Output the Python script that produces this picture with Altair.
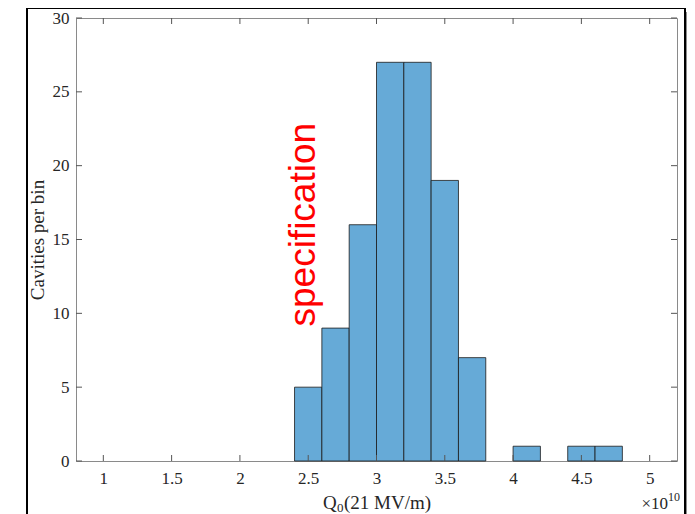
import altair as alt
import pandas as pd

# ---- data ----
bin_edges = [2.4, 2.6, 2.8, 3.0, 3.2, 3.4, 3.6, 3.8, 4.0, 4.2, 4.4, 4.6, 4.8]
counts = [5, 9, 16, 27, 27, 19, 7, 0, 1, 0, 1, 1]
x_ticks = [1, 1.5, 2, 2.5, 3, 3.5, 4, 4.5, 5]
y_ticks = [0, 5, 10, 15, 20, 25, 30]
annotation_text = ["specification"]
annotation_x = [2.55]
annotation_y = [16.0]

W, H = 601, 443
SERIF = "Liberation Serif"
TICK = "#555555"
BOX = "#8a8a8a"
TXT = "#262626"

bars_df = pd.DataFrame({"start": bin_edges[:-1], "end": bin_edges[1:], "count": counts})
xt_df = pd.DataFrame({"v": x_ticks})
yt_df = pd.DataFrame({"v": y_ticks})
one = pd.DataFrame({"k": [0]})
ann_df = pd.DataFrame({"t": annotation_text, "x": annotation_x, "y": annotation_y})

xs = alt.Scale(domain=[0.8, 5.2], nice=False, zero=False)
ys = alt.Scale(domain=[0, 30], nice=False, zero=True)

x_axis = alt.Axis(values=x_ticks, format="~g", tickSize=0, domain=False, grid=False,
                  labelPadding=9, title=None)
y_axis = alt.Axis(values=y_ticks, format="d", tickSize=0, domain=False, grid=False,
                  labelPadding=7, title="Cavities per bin", titlePadding=5)

bars = alt.Chart(bars_df).transform_filter("datum.count > 0").mark_rect(
    fill="#66AAD7", stroke="#1a1a1a", strokeWidth=0.8
).encode(
    x=alt.X("start:Q", scale=xs, axis=x_axis),
    x2="end:Q",
    y=alt.Y("count:Q", scale=ys, axis=y_axis),
    y2=alt.datum(0),
)

xb = alt.Chart(xt_df).mark_rule(color=TICK, strokeWidth=1).encode(
    x=alt.X("v:Q", scale=xs, axis=x_axis), y=alt.value(H), y2=alt.value(H - 6))
xtop = alt.Chart(xt_df).mark_rule(color=TICK, strokeWidth=1).encode(
    x=alt.X("v:Q", scale=xs, axis=x_axis), y=alt.value(0), y2=alt.value(6))
yl = alt.Chart(yt_df).mark_rule(color=TICK, strokeWidth=1).encode(
    y=alt.Y("v:Q", scale=ys, axis=y_axis), x=alt.value(0), x2=alt.value(6))
yr = alt.Chart(yt_df).mark_rule(color=TICK, strokeWidth=1).encode(
    y=alt.Y("v:Q", scale=ys, axis=y_axis), x=alt.value(W), x2=alt.value(W - 6))

spec = alt.Chart(ann_df).mark_text(
    font="Liberation Sans", fontSize=37, color="#ff0000", angle=270,
    align="center", baseline="alphabetic"
).encode(x=alt.X("x:Q", scale=xs, axis=x_axis), y=alt.Y("y:Q", scale=ys, axis=y_axis), text="t:N")

# x-axis title with subscript
q = alt.Chart(one).mark_text(font=SERIF, fontSize=19, color=TXT, align="left", baseline="alphabetic").encode(
    x=alt.value(247), y=alt.value(491), text=alt.value("Q"))
q0 = alt.Chart(one).mark_text(font=SERIF, fontSize=13, color=TXT, align="left", baseline="alphabetic").encode(
    x=alt.value(261), y=alt.value(494), text=alt.value("0"))
qrest = alt.Chart(one).mark_text(font=SERIF, fontSize=19, color=TXT, align="left", baseline="alphabetic").encode(
    x=alt.value(268), y=alt.value(491), text=alt.value("(21 MV/m)"))

# exponent label
ex = alt.Chart(one).mark_text(font=SERIF, fontSize=17, color=TXT, align="right", baseline="alphabetic").encode(
    x=alt.value(592), y=alt.value(491), text=alt.value("×10"))
ex2 = alt.Chart(one).mark_text(font=SERIF, fontSize=12, color=TXT, align="left", baseline="alphabetic").encode(
    x=alt.value(592), y=alt.value(483), text=alt.value("10"))

# outer frame + shadow
frame = alt.Chart(one).mark_rect(fillOpacity=0, stroke="#000000", strokeWidth=2).encode(
    x=alt.value(-49), x2=alt.value(609), y=alt.value(-10), y2=alt.value(512))
sh1 = alt.Chart(one).mark_rect(color="#8c8c8c").encode(
    x=alt.value(610), x2=alt.value(613), y=alt.value(-6), y2=alt.value(512))
sh2 = alt.Chart(one).mark_rect(color="#bdbdbd").encode(
    x=alt.value(613), x2=alt.value(616), y=alt.value(-5), y2=alt.value(512))
sh3 = alt.Chart(one).mark_rect(color="#e6e6e6").encode(
    x=alt.value(616), x2=alt.value(619), y=alt.value(-4), y2=alt.value(512))

chart = alt.layer(
    bars, xb, xtop, yl, yr, spec, q, q0, qrest, ex, ex2, frame, sh1, sh2, sh3
).properties(
    width=W, height=H,
    autosize=alt.AutoSizeParams(type="none"),
    padding={"left": 68, "top": 10, "right": 10, "bottom": 53},
).configure_view(
    stroke=BOX, strokeWidth=1
).configure_axis(
    labelFont=SERIF, labelFontSize=17, labelColor=TXT,
    titleFont=SERIF, titleFontSize=19, titleFontWeight="normal", titleColor=TXT,
)

chart.save("out.html", embed_options={"renderer": "svg", "actions": False})
